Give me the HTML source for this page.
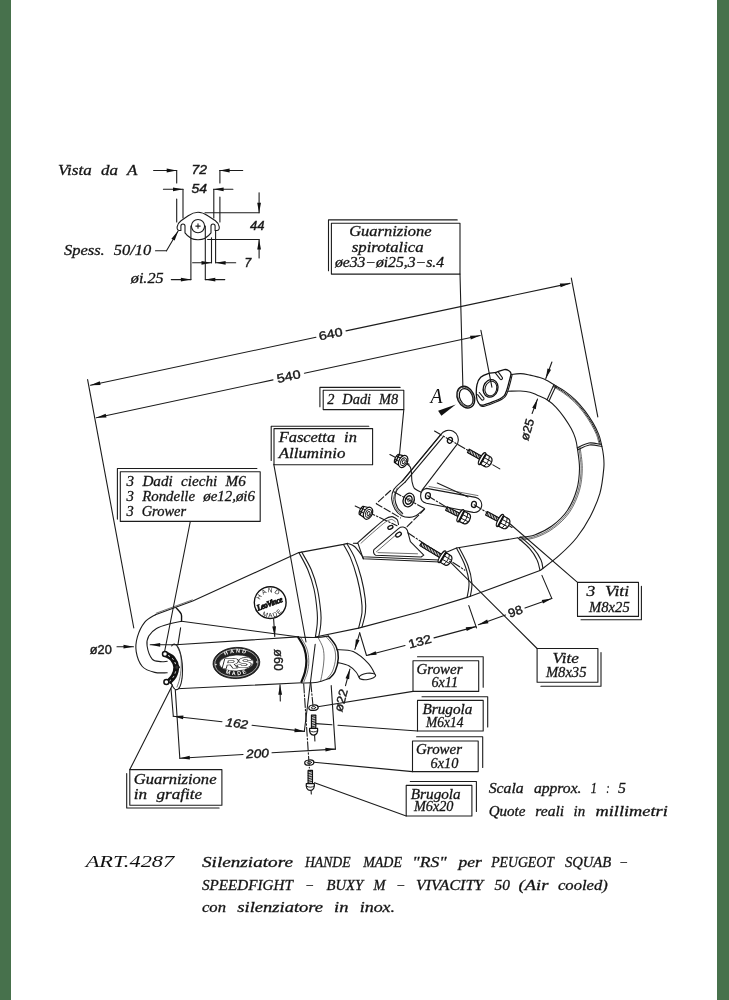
<!DOCTYPE html>
<html>
<head>
<meta charset="utf-8">
<title>ART.4287</title>
<style>
html,body{margin:0;padding:0;background:#fff;}
body{width:729px;height:1000px;overflow:hidden;position:relative;font-family:"Liberation Serif",serif;}
svg{position:absolute;left:0;top:0;display:block;filter:grayscale(1);}
.bar{position:absolute;top:0;height:1000px;background:#47714c;}
text{white-space:pre;}
.l{stroke:#1c1c1c;stroke-width:1.1;fill:none;stroke-linecap:round;stroke-linejoin:round;}
.t{stroke:#333;stroke-width:.7;fill:none;stroke-linecap:round;stroke-linejoin:round;}
.k{stroke:#111;stroke-width:1.5;fill:none;stroke-linecap:round;stroke-linejoin:round;}
.w{fill:#fff;}
.d{fill:#222;stroke:#222;stroke-width:.6;}
.s{word-spacing:.3em;font-family:"Liberation Serif",serif;font-style:italic;font-size:13.6px;fill:#111;stroke:#222;stroke-width:.3px;}
.n{font-family:"Liberation Sans",sans-serif;font-size:12.1px;fill:#111;stroke:#222;stroke-width:.4px;}
.ni{font-family:"Liberation Sans",sans-serif;font-style:italic;font-size:12.1px;fill:#111;stroke:#222;stroke-width:.4px;}
</style>
</head>
<body>
<svg width="729" height="1000" viewBox="0 0 729 1000" >
<defs>
<marker id="a" markerUnits="userSpaceOnUse" markerWidth="14" markerHeight="6" refX="0" refY="0" viewBox="-12 -3 14 6" orient="auto" overflow="visible"><path d="M0,0 L-10,-1.9 L-10,1.9 Z" fill="#111"/></marker>
</defs>
<rect x="0" y="0" width="729" height="1000" fill="#fff"/>
<g id="vista">
<text class="s" x="58" y="174.6" textLength="79.3" lengthAdjust="spacingAndGlyphs">Vista da A</text>
<text class="ni" x="191.5" y="174.3" textLength="15.5" lengthAdjust="spacingAndGlyphs">72</text>
<text class="ni" x="191.5" y="193.4" textLength="15.5" lengthAdjust="spacingAndGlyphs">54</text>
<text class="ni" x="250" y="229.6" textLength="14.5" lengthAdjust="spacingAndGlyphs">44</text>
<text class="ni" x="244.5" y="266.5">7</text>
<text class="s" x="64" y="255.4" textLength="87.3" lengthAdjust="spacingAndGlyphs">Spess. 50/10</text>
<text class="s" x="130.8" y="282.8" textLength="32.8" lengthAdjust="spacingAndGlyphs">øi.25</text>
<g class="l">
<line x1="153.6" y1="170.5" x2="176.7" y2="170.5" marker-end="url(#a)"/>
<line x1="242.7" y1="170.5" x2="219.6" y2="170.5" marker-end="url(#a)"/>
<path d="M176.7,170.5V183M176.7,199V222M219.9,170.5V183M219.9,197V222"/>
<line x1="163.4" y1="189.3" x2="183" y2="189.3" marker-end="url(#a)"/>
<line x1="232.9" y1="189.3" x2="213.6" y2="189.3" marker-end="url(#a)"/>
<path d="M183,189.3V218M213.8,189.3V218"/>
<path d="M205,212.7H259.1M207.6,239.5H259.1"/>
<line x1="259.1" y1="192.8" x2="259.1" y2="212.7" marker-end="url(#a)"/>
<line x1="259.1" y1="258" x2="259.1" y2="239.5" marker-end="url(#a)"/>
<line x1="192.6" y1="262.8" x2="211.5" y2="262.8" marker-end="url(#a)"/>
<line x1="235.7" y1="262.8" x2="215.6" y2="262.8" marker-end="url(#a)"/>
<path d="M211.5,237.7V262.8M215.6,231V262.8"/>
<line x1="171.3" y1="279.6" x2="190.9" y2="279.6" marker-end="url(#a)"/>
<line x1="224.8" y1="279.6" x2="205.3" y2="279.6" marker-end="url(#a)"/>
<path d="M190.9,226V279.6M205.3,226V279.6"/>
<path d="M155.5,250.8H166.5"/>
<line x1="166.5" y1="250.8" x2="178.1" y2="231" marker-end="url(#a)"/>
<path d="M198,212.3 C193.8,212.3 190.8,214 188.2,215.8 L181,220.8 C176.4,224.2 175.8,230.5 179.5,230.5 L180.9,230.5 L180.9,226 A2.05,2.05 0 0 1 185,226 L185,232.9 C188,237 193,239.8 198,239.8 C203,239.8 208,237 211,232.9 L211,226 A2.05,2.05 0 0 1 215.1,226 L215.1,230.5 L216.8,230.5 C220.6,230.5 220,224.2 215.4,220.8 L207.8,215.8 C205.2,214 202.2,212.3 198,212.3 Z"/>
<circle cx="198" cy="226.1" r="6.6"/>
<path d="M195.8,226.1H200.2M198,223.9V228.3"/>
</g>
</g>
<g id="exhaust" class="l">
<path d="M509.6,374.7C511.4,374.5 517.1,373.5 520.5,373.6C523.9,373.7 527,374.5 530,375.1C533,375.7 535.7,376.4 538.2,377.1C540.7,377.9 542.5,378.3 545.1,379.6C547.7,380.9 550.8,382.8 554,384.7C557.2,386.6 560.8,388.4 564.3,390.9C567.8,393.4 571.9,396.5 575.3,399.8C578.7,403.1 581.9,406.9 584.9,410.8C587.9,414.7 590.8,419.2 593.1,423.1C595.4,427 597.2,430.7 598.6,434.1C600,437.5 600.5,440.2 601.3,443.7C602.1,447.2 603,450.9 603.4,455C603.8,459.1 604.4,462 603.8,468.4C603.2,474.8 602.1,485.4 599.9,493.4C597.6,501.4 594.1,509 590.3,516.4C586.4,523.8 581.9,531 576.8,537.5C571.7,544 565.5,549.8 559.5,555.2C553.5,560.7 543.8,567.7 540.6,570.2"/>
<path d="M508.2,391.2C510.2,391.2 516.9,390.8 520.5,391C524.1,391.2 527.3,391.5 530,392.2C532.7,392.9 534,393.7 536.9,395C539.8,396.3 543.9,397.8 547.1,399.8C550.3,401.9 553.2,404.3 556.1,407.3C559,410.3 561.8,414.1 564.3,417.6C566.8,421.2 569.4,425.2 571.2,428.6C573,432 574.3,435 575.3,438.2C576.3,441.4 576.6,442.8 577.3,447.8C578,452.8 579.6,461.4 579.5,468.4C579.4,475.3 578.8,482.4 576.8,489.5C574.8,496.6 571.4,504.6 567.2,510.7C563.1,516.8 557.3,522 551.9,526C546.5,530 540,533 534.6,534.9C529.2,536.8 521.9,537 519.4,537.4"/>
<path d="M553.4,385.7C555.1,386.8 560.1,389.4 563.6,391.9C567.1,394.4 571.1,397.4 574.5,400.7C577.9,403.9 581,407.7 583.9,411.5C586.9,415.4 589.8,419.9 592.1,423.7C594.3,427.5 596.1,431.2 597.5,434.5C598.8,437.9 599.7,442.4 600.1,444" stroke="#222" stroke-width="1" fill="none"/>
<path class="t" d="M552.9,386.6C554.6,387.6 559.5,390.2 563,392.7C566.5,395.2 570.4,398.1 573.8,401.4C577.1,404.6 580.2,408.3 583.2,412.1C586.1,415.9 589,420.4 591.2,424.2C593.4,428 595.2,431.6 596.6,434.9C597.9,438.3 598.7,442.7 599.2,444.3"/>
<path class="t" d="M578.9,447.6C579.3,451.1 581.2,461.4 581.1,468.4C581,475.5 580.4,482.7 578.3,489.9C576.2,497.1 572.8,505.4 568.5,511.6C564.3,517.8 558.4,523.2 552.9,527.3C547.3,531.4 540.7,534.5 535.1,536.4C529.6,538.4 522.2,538.6 519.7,539"/>
<path class="t" d="M580.1,447.5C580.5,451 582.4,461.3 582.3,468.4C582.2,475.6 581.6,483 579.5,490.3C577.4,497.6 573.8,506 569.5,512.3C565.2,518.6 559.2,524 553.6,528.2C547.9,532.5 541.1,535.6 535.5,537.5C529.9,539.5 522.5,539.7 519.9,540.2"/>
<path d="M554,384.7C553.5,385.8 551.9,389 550.8,391.5C549.6,394 547.7,398.4 547.1,399.8"/>
<path d="M556,385.9C555.5,387 554,390.2 552.8,392.8C551.6,395.4 549.6,399.8 549,401.2"/>
<path d="M577.3,447.8C579.2,447 585,443.6 589,443C593,442.4 599.2,444.2 601.3,444.4"/>
<path d="M577.7,449.8C579.7,449 585.4,445.6 589.4,445C593.4,444.4 599.7,446.2 601.8,446.4"/>
<path d="M477,384.7C477.7,381.6 478.8,379.1 480.7,377.3C482.6,375.5 485.5,374.4 488.1,373.6C490.7,372.8 493.5,373 496.2,372.3C498.9,371.6 502.1,369.9 504.2,369.6C506.2,369.3 507.4,369.8 508.5,370.5C509.6,371.2 510.9,371.8 511,373.6C511.1,375.5 509.9,378.5 509.1,381.6C508.3,384.7 507.2,389.4 506,392.1C504.8,394.8 505.5,395.5 501.7,397.7C497.9,399.9 487.1,404.3 483.2,405.1C479.3,405.9 479.4,404.2 478.3,402.6C477.2,401.1 476.6,398.8 476.4,395.8C476.2,392.8 476.3,387.8 477,384.7Z" fill="#fff" stroke="#111" stroke-width="1.3"/>
<path d="M512.2,374.5C511.9,375.9 511.1,379.9 510.2,383C509.3,386.1 508.3,390.5 507,393.2C505.7,395.9 506.2,396.8 502.3,399C498.4,401.2 487.4,405.5 483.6,406.4C479.8,407.3 480.2,404.8 479.5,404.5"/>
<ellipse cx="490.6" cy="388.4" rx="7.3" ry="8.9" transform="rotate(18 490.6 388.4)" fill="none" stroke="#111" stroke-width="1.3"/>
<ellipse cx="490.9" cy="388.6" rx="5.8" ry="7.4" transform="rotate(18 490.9 388.6)"/>
<path d="M495.5,373.2L500.2,379.2A1.4,1.4 0 0 0 502.4,377.6L498,371.7"/>
<path d="M477.6,394.6L481.7,399.8A1.4,1.4 0 0 0 483.9,398.2L479.3,392.5"/>
<ellipse cx="465.8" cy="397.1" rx="8.4" ry="11.3" transform="rotate(-25 465.8 397.1)" fill="#fff" stroke="#111" stroke-width="1.3"/>
<ellipse cx="466.2" cy="397.3" rx="6.3" ry="9.1" transform="rotate(-25 466.2 397.3)" fill="none" stroke="#111" stroke-width="1.2"/>
<ellipse class="t" cx="465.5" cy="396.8" rx="7.4" ry="10.3" transform="rotate(-25 465.5 396.8)"/>
<path d="M455.8,404.5L438.1,410.8L441.4,415.7Z" fill="#111" stroke="none"/>
<path d="M155.4,614.7L192.7,601L298.9,552.6"/>
<path class="t" d="M156.2,613.2L192.4,599.9"/>
<path d="M176.2,607.9C177,608.9 180.3,611.9 181.2,614.1C182.1,616.3 181.4,620.1 181.5,621.3" stroke="#111" stroke-width="1.4" fill="none"/>
<path d="M181.5,621.3L301,637.3"/>
<path d="M298.9,552.6L343.5,544.4L347.6,543.4"/>
<path d="M347.6,543.4C348.8,543.9 352.2,544.6 354.5,546.5C356.8,548.4 359.8,552.7 361.3,554.7C362.8,556.8 363.2,558.1 363.6,558.8"/>
<path d="M298.9,552.6C300.4,555.5 305.3,563.7 307.8,569.8C310.3,575.9 312.4,581.9 314,589C315.6,596.1 316.7,606.5 317.2,612.3C317.7,618.1 317.5,619.9 317.2,624C316.9,628.1 315.7,634.8 315.4,637"/>
<path d="M301.7,552C303.3,555 308.7,563.6 311.3,569.8C313.9,576 315.8,581.9 317.4,589C319,596.1 320.2,606.3 320.8,612.3C321.4,618.3 321,621 320.7,625C320.4,629 319.1,634.4 318.8,636.3"/>
<path d="M343.5,544.4C344.6,546.6 348.1,551.8 350.4,557.4C352.7,563 355.4,571.1 357.2,578C359,584.9 360.5,592.9 361.3,598.6C362.1,604.3 362.4,607.4 362,612.3C361.6,617.2 359.2,625.5 358.6,628.1"/>
<path d="M346.9,543.7C348.2,546 352.1,551.7 354.5,557.4C356.9,563.1 359.5,571.1 361.3,578C363.1,584.9 364.5,592.9 365.2,598.6C365.9,604.3 365.9,607.6 365.4,612.3C364.9,617 362.6,624.5 362,626.9"/>
<path d="M315.4,637L358.6,628.1L420,611.8L467.1,597.4L540,570.5"/>
<path d="M440,555L448.8,551.3L456.5,548L517.9,537.8"/>
<path d="M456.5,548C457.9,551 463,559.9 465.1,565.7C467.2,571.5 468.7,577.7 469,583C469.3,588.3 467.4,595 467.1,597.4"/>
<path d="M459.4,548.2C460.8,551.1 465.9,559.9 468,565.7C470.1,571.5 471.5,577.9 471.9,583C472.3,588.1 470.6,594.2 470.3,596.4"/>
<path d="M517.9,537.8C519.8,539.6 526.3,544.7 529.5,548.4C532.7,552.1 535.4,556.2 537.1,559.9C538.9,563.6 539.5,568.7 540,570.5"/>
<path d="M520.8,536.9C522.9,538.8 529.9,544.6 533.3,548.4C536.7,552.2 539.4,556.5 541,559.9C542.6,563.3 542.6,567.1 542.9,568.6"/>
<path d="M175.7,644.8L297.2,636.9"/>
<path d="M176.9,688.8L302,682.8"/>
<ellipse cx="175.4" cy="666.9" rx="7" ry="22.8" transform="rotate(-3 175.4 666.9)" fill="#fff" stroke="none"/>
<path d="M171.7,645.9C171.8,645.8 172.2,645.2 172.6,644.9C172.9,644.6 173.2,644.4 173.5,644.3C173.8,644.2 174.1,644.1 174.5,644.1C174.8,644.2 175.1,644.2 175.4,644.4C175.8,644.6 176.1,644.8 176.4,645.1C176.8,645.4 177.1,645.8 177.4,646.3C177.7,646.7 178,647.2 178.3,647.8C178.6,648.4 178.9,649 179.2,649.7C179.5,650.4 179.7,651.2 180,652C180.2,652.8 180.5,653.6 180.7,654.5C180.9,655.4 181.1,656.3 181.3,657.3C181.5,658.3 181.6,659.3 181.8,660.3C181.9,661.3 182.1,662.3 182.2,663.4C182.3,664.4 182.3,665.5 182.4,666.5C182.4,667.6 182.5,668.7 182.5,669.7C182.5,670.8 182.5,671.8 182.4,672.8C182.4,673.8 182.4,674.9 182.3,675.8C182.2,676.8 182.1,677.8 182,678.7C181.8,679.6 181.7,680.4 181.5,681.3C181.4,682.1 181.2,682.9 181,683.6C180.8,684.3 180.5,685 180.3,685.6C180.1,686.2 179.8,686.7 179.5,687.2C179.3,687.7 179,688.1 178.7,688.4C178.4,688.8 178.1,689.1 177.8,689.3C177.5,689.5 177.2,689.6 176.8,689.6C176.5,689.7 176.2,689.7 175.9,689.6C175.5,689.5 175.2,689.3 174.9,689.1C174.5,688.8 174.2,688.5 173.9,688.1C173.6,687.8 173.2,687.3 172.9,686.8C172.6,686.3 172.3,685.7 172,685.1C171.7,684.4 171.5,683.7 171.2,683C170.9,682.2 170.6,681 170.4,680.6"/>
<path class="t" d="M177.2,646.5C177.8,647.9 179.9,651.6 180.6,655C181.3,658.4 181.4,663 181.2,667C181,671 180.3,675.7 179.6,679C178.9,682.3 177.4,685.7 177,687"/>
<path d="M298.2,637.2C299.2,639 302.8,644.1 304.2,648C305.6,651.9 306.3,656.8 306.4,660.8C306.5,664.8 305.8,668.5 305,672C304.2,675.5 302.1,680.1 301.5,681.7" stroke="#111" stroke-width="2.2" fill="none"/>
<path class="t" d="M300.6,637.2C301.6,639 305.2,644.1 306.6,648C308,651.9 308.7,656.8 308.8,660.8C308.9,664.8 308.2,668.5 307.4,672C306.6,675.5 304.5,680.1 303.9,681.7"/>
<path class="t" d="M318.5,638.3C319.2,639.9 322.1,644.5 323,648C323.9,651.5 324.1,655.2 324,659C323.9,662.8 323.2,667.4 322.6,671C322.1,674.6 321,679 320.7,680.6"/>
<path d="M301,637.3C303.7,637.3 312.8,637.6 317.4,637.4C322,637.2 326.6,636.3 328.4,636.1"/>
<path class="k" d="M328.4,636.1C329.7,637.8 334.5,642.9 336.1,646.5C337.8,650.1 338.5,653.8 338.3,658C338.1,662.2 336.5,668.4 335,671.8C333.5,675.2 330.4,677.3 329.5,678.4"/>
<path d="M329.5,678.4C327.5,679 322,681.5 317.4,682.3C312.8,683.1 304.6,682.9 302,683"/>
<path class="t" d="M326,636.6C327.3,638.2 332,642.9 333.6,646.5C335.2,650.1 335.8,653.9 335.6,658C335.4,662.1 334,667.6 332.6,671C331.2,674.4 327.9,677.3 327,678.6"/>
<path d="M336.9,649.6C339.6,649.9 347.9,649.2 353.2,651.6C358.5,654 364.8,659.7 368.5,663.7C372.2,667.7 374.4,673.5 375.6,675.5"/>
<path d="M337.9,662.6C339.7,663.1 345.8,664.2 348.8,665.8C351.8,667.4 354.3,670 356,672C357.7,674 358.7,676.7 359.2,677.6"/>
<ellipse class="l w" cx="367.4" cy="676.4" rx="8.3" ry="3.1" transform="rotate(-8 367.4 676.4)"/>
<path d="M155.4,614.7C153.6,615.9 147.8,618.4 144.8,622.1C141.8,625.8 138.8,632 137.4,636.9C136,641.8 135.4,646.8 136.2,651.7C137,656.6 139.2,663 142.3,666.5C145.4,670 150.5,671.4 154.7,672.4C158.8,673.4 165.1,672.7 167.2,672.8"/>
<path d="M181.5,621.3C179.7,621.7 174.9,622.3 170.7,623.5C166.5,624.7 160.2,626.3 156.5,628.4C152.8,630.5 150.4,633.2 148.8,636.1C147.2,639 146.5,642.2 147.1,646C147.7,649.8 150,656.5 152.2,659.1C154.4,661.7 158,661.2 160.5,661.6C163,662 166.1,661.3 167.2,661.3"/>
<path d="M166.2,654.5C167.3,655.2 170.9,656.5 172.6,658.6C174.3,660.7 176,664.1 176.2,667C176.4,669.9 175.1,673.7 173.8,676.2C172.5,678.7 169.3,681.2 168.4,682.2" stroke="#111" stroke-width="5.8" fill="none" stroke-linecap="butt"/>
<path d="M166.2,654.5C167.3,655.2 170.9,656.5 172.6,658.6C174.3,660.7 176,664.1 176.2,667C176.4,669.9 175.1,673.7 173.8,676.2C172.5,678.7 169.3,681.2 168.4,682.2" stroke="#fff" stroke-width=".9" fill="none" stroke-dasharray="1.4 3.4" stroke-dashoffset="-2.5"/>
<circle cx="165" cy="654" r="2.5" fill="#fff" stroke="#111" stroke-width="1.5"/><circle cx="166.4" cy="682" r="2.5" fill="#fff" stroke="#111" stroke-width="1.5"/><circle cx="177" cy="667.2" r="2.2" fill="#333" stroke="#111" stroke-width="1"/>
<line x1="180.6" y1="627.9" x2="177.9" y2="644.9"/>
</g>
<g id="bracket" class="l">
<path d="M390.6,490.5L376.3,503.7L400.5,517.9" stroke-dasharray="7 2.5"/>
<path d="M407.1,526.7L424.6,509.2" stroke-dasharray="7 2.5"/>
<path class="l w" d="M357.8,542.6C359.5,541.1 368.9,532.7 372,530C375.1,527.3 382.3,521 384.6,519.4C386.9,517.8 390.2,516.6 391.7,516.6C393.2,516.6 396.4,518.7 397.2,519.6C398,520.5 398.3,523.9 398.5,524.5"/>
<path class="t" d="M361,543.2C362.5,541.8 371.1,534.1 374,531.6C376.9,529.1 383.9,523 386,521.6C388.1,520.2 390.5,519.4 391.6,519.4C392.7,519.4 395,521.5 395.4,521.8"/>
<ellipse cx="390.4" cy="527.4" rx="2.7" ry="1.6" transform="rotate(-25 390.4 527.4)" fill="#fff" stroke="#111" stroke-width="1.3"/>
<path d="M353.4,543.3L358,543.4L362.5,556.8L439.5,560"/>
<path d="M362.5,556.8L363.2,558.8L440,562"/>
<path class="l w" d="M373.9,549.7L398.8,528.3C401,526.4 405.5,526.2 407.3,530.2L410.4,541.7L423.8,555.1L421.1,557L375.7,555.3C373.6,554.5 373,551.2 373.9,549.7Z"/>
<path class="t" d="M376.5,551.7L399.5,531.8M378,552.6L417.5,553.8"/>
<ellipse cx="398.5" cy="534.6" rx="3.1" ry="1.9" transform="rotate(-30 398.5 534.6)" fill="#fff" stroke="#111" stroke-width="1.3"/>
<path d="M440.6,434.8A9.6,9.6 0 0 1 457.6,443.6L421.9,490.3L414,500L402.7,480.6Z" fill="#fff" stroke="none"/>
<path d="M402.7,480.6L440.6,434.8A9.6,9.6 0 0 1 457.6,443.6L421.9,490.3"/>
<path class="l" d="M443.3,436.7L404.9,482.3"/>
<path class="l w" d="M402.7,480.6C401.2,482.1 395.7,486.3 393.9,489.4C392.1,492.5 391.5,496 391.7,499.3C391.9,502.6 393.4,506.5 395,509.2C396.6,511.9 399.2,514.3 401.6,515.7C404,517.1 406.9,517.4 409.3,517.4C411.7,517.4 414.1,516.5 415.9,515.7C417.7,514.9 418.9,513.6 420.3,512.4C421.8,511.2 423.9,509.2 424.6,508.6"/>
<path d="M404.9,482.3C403.5,483.7 398.3,487.7 396.7,490.5C395.1,493.3 394.8,496.4 395,499.3C395.2,502.2 396.4,505.6 397.7,508C399,510.4 401.9,512.6 402.7,513.5"/>
<path class="t" d="M397.2,488C396.6,489.9 393.5,495.8 393.4,499.3C393.3,502.8 395.1,506.4 396.6,509C398.1,511.6 401.4,513.8 402.4,514.8"/>
<path d="M402.7,480.6L440.6,434.8"/>
<ellipse cx="408.7" cy="500" rx="5.4" ry="7" transform="rotate(22 408.7 500)" fill="#fff" stroke="#111" stroke-width="1.3"/>
<ellipse cx="408.7" cy="500" rx="3.2" ry="4.3" transform="rotate(22 408.7 500)" fill="#fff" stroke="#111" stroke-width="1.4"/>
<ellipse class="t" cx="408.9" cy="500" rx="1.2" ry="1.9" transform="rotate(22 408.9 500)"/>
<path d="M406.5,463.4C407,463.9 409.7,465.8 410.4,467.2C411.1,468.6 411.3,471.9 411.5,473.8C411.7,475.7 411.6,479.6 412,481.5C412.4,483.4 413,486.6 414.2,488.1C415.4,489.6 420.4,491.8 421.3,492.4"/>
<path class="l w" d="M426.6,488.4L475.6,497.4A7.6,7.6 0 0 1 473.2,512.4L426.4,503.2A7.6,7.6 0 0 1 426.6,488.4Z"/>
<path class="t" d="M429,486.5L478,495.6"/>
<ellipse cx="427.9" cy="495.7" rx="2.4" ry="3.1" transform="rotate(10 427.9 495.7)" fill="#fff" stroke="#111" stroke-width="1.3"/>
<ellipse cx="473.9" cy="504.4" rx="2.4" ry="3.1" transform="rotate(10 473.9 504.4)" fill="#fff" stroke="#111" stroke-width="1.3"/>
<ellipse cx="449.9" cy="440.3" rx="2.4" ry="3" transform="rotate(20 449.9 440.3)" fill="#fff" stroke="#111" stroke-width="1.3"/>
<line x1="434.5" y1="431" x2="500.5" y2="469.3" stroke-dasharray="8 2 1.5 2"/>
<line x1="389.9" y1="454.6" x2="409.6" y2="464.5" stroke-dasharray="8 2 1.5 2"/>
<line x1="393.9" y1="491.8" x2="424" y2="508.3" stroke-dasharray="8 2 1.5 2"/>
<line x1="355.2" y1="506" x2="397" y2="525.7" stroke-dasharray="8 2 1.5 2"/>
<line x1="407.8" y1="532.8" x2="464.8" y2="570.2" stroke-dasharray="8 2 1.5 2"/>
<line x1="427.7" y1="495.8" x2="470" y2="521.3" stroke-dasharray="8 2 1.5 2"/>
<line x1="474.2" y1="504.8" x2="512" y2="527.5" stroke-dasharray="8 2 1.5 2"/>
<line x1="437.3" y1="483.1" x2="468" y2="497"/>
<g transform="translate(485.3,460.4) rotate(29.5)">
<rect x="-19.5" y="-1.9" width="15" height="3.8" fill="#fff" stroke="#111" stroke-width="1.1"/>
<path d="M-18.9,-1.9L-17.9,1.9M-17.2,-1.9L-16.2,1.9M-15.5,-1.9L-14.5,1.9M-13.8,-1.9L-12.8,1.9M-12.1,-1.9L-11.1,1.9M-10.4,-1.9L-9.4,1.9M-8.7,-1.9L-7.7,1.9M-7,-1.9L-6,1.9M-5.3,-1.9L-4.3,1.9" stroke="#111" stroke-width=".9" fill="none"/>
<g transform="translate(-3.6,0) scale(1.1) translate(3.6,0)">
<ellipse cx="-3.6" cy="0" rx="1.9" ry="6.1" fill="#fff" stroke="#111" stroke-width="1.1"/>
<path d="M-3,-5.2 L2.8,-5 C6.4,-4 6.4,4 2.8,5 L-3,5.2 Z" fill="#fff" stroke="#111" stroke-width="1.1"/>
<path d="M-2.6,-1.8 L4.4,-1.7 M-2.6,1.8 L4.4,1.7 M1.2,-5 C2.6,-2 2.6,2 1.2,5" stroke="#111" stroke-width=".8" fill="none"/>
<path d="M-2.4,-4.8 V4.8" stroke="#111" stroke-width="1.5" fill="none"/>
</g>
</g>
<g transform="translate(463.8,517.4) rotate(27)">
<rect x="-19.5" y="-1.9" width="15" height="3.8" fill="#fff" stroke="#111" stroke-width="1.1"/>
<path d="M-18.9,-1.9L-17.9,1.9M-17.2,-1.9L-16.2,1.9M-15.5,-1.9L-14.5,1.9M-13.8,-1.9L-12.8,1.9M-12.1,-1.9L-11.1,1.9M-10.4,-1.9L-9.4,1.9M-8.7,-1.9L-7.7,1.9M-7,-1.9L-6,1.9M-5.3,-1.9L-4.3,1.9" stroke="#111" stroke-width=".9" fill="none"/>
<g transform="translate(-3.6,0) scale(1.1) translate(3.6,0)">
<ellipse cx="-3.6" cy="0" rx="1.9" ry="6.1" fill="#fff" stroke="#111" stroke-width="1.1"/>
<path d="M-3,-5.2 L2.8,-5 C6.4,-4 6.4,4 2.8,5 L-3,5.2 Z" fill="#fff" stroke="#111" stroke-width="1.1"/>
<path d="M-2.6,-1.8 L4.4,-1.7 M-2.6,1.8 L4.4,1.7 M1.2,-5 C2.6,-2 2.6,2 1.2,5" stroke="#111" stroke-width=".8" fill="none"/>
<path d="M-2.4,-4.8 V4.8" stroke="#111" stroke-width="1.5" fill="none"/>
</g>
</g>
<g transform="translate(503.2,522.2) rotate(28)">
<rect x="-19" y="-1.9" width="14.5" height="3.8" fill="#fff" stroke="#111" stroke-width="1.1"/>
<path d="M-18.4,-1.9L-17.4,1.9M-16.7,-1.9L-15.7,1.9M-15,-1.9L-14,1.9M-13.3,-1.9L-12.3,1.9M-11.6,-1.9L-10.6,1.9M-9.9,-1.9L-8.9,1.9M-8.2,-1.9L-7.2,1.9M-6.5,-1.9L-5.5,1.9" stroke="#111" stroke-width=".9" fill="none"/>
<g transform="translate(-3.6,0) scale(1.1) translate(3.6,0)">
<ellipse cx="-3.6" cy="0" rx="1.9" ry="6.1" fill="#fff" stroke="#111" stroke-width="1.1"/>
<path d="M-3,-5.2 L2.8,-5 C6.4,-4 6.4,4 2.8,5 L-3,5.2 Z" fill="#fff" stroke="#111" stroke-width="1.1"/>
<path d="M-2.6,-1.8 L4.4,-1.7 M-2.6,1.8 L4.4,1.7 M1.2,-5 C2.6,-2 2.6,2 1.2,5" stroke="#111" stroke-width=".8" fill="none"/>
<path d="M-2.4,-4.8 V4.8" stroke="#111" stroke-width="1.5" fill="none"/>
</g>
</g>
<g transform="translate(445.2,558.7) rotate(31)">
<rect x="-28.5" y="-1.9" width="24" height="3.8" fill="#fff" stroke="#111" stroke-width="1.1"/>
<path d="M-27.9,-1.9L-26.9,1.9M-26.2,-1.9L-25.2,1.9M-24.5,-1.9L-23.5,1.9M-22.8,-1.9L-21.8,1.9M-21.1,-1.9L-20.1,1.9M-19.4,-1.9L-18.4,1.9M-17.7,-1.9L-16.7,1.9M-16,-1.9L-15,1.9M-14.3,-1.9L-13.3,1.9M-12.6,-1.9L-11.6,1.9M-10.9,-1.9L-9.9,1.9M-9.2,-1.9L-8.2,1.9M-7.5,-1.9L-6.5,1.9M-5.8,-1.9L-4.8,1.9" stroke="#111" stroke-width=".9" fill="none"/>
<g transform="translate(-3.6,0) scale(1.1) translate(3.6,0)">
<ellipse cx="-3.6" cy="0" rx="1.9" ry="6.1" fill="#fff" stroke="#111" stroke-width="1.1"/>
<path d="M-3,-5.2 L2.8,-5 C6.4,-4 6.4,4 2.8,5 L-3,5.2 Z" fill="#fff" stroke="#111" stroke-width="1.1"/>
<path d="M-2.6,-1.8 L4.4,-1.7 M-2.6,1.8 L4.4,1.7 M1.2,-5 C2.6,-2 2.6,2 1.2,5" stroke="#111" stroke-width=".8" fill="none"/>
<path d="M-2.4,-4.8 V4.8" stroke="#111" stroke-width="1.5" fill="none"/>
</g>
</g>
<g transform="translate(401.4,460.6) rotate(27)">
<path d="M-5.6,-4.2 L1,-5.6 L1,5.6 L-5.6,4.6 C-7,2.5 -7,-2 -5.6,-4.2Z" fill="#fff" stroke="#111" stroke-width="1.2"/>
<path d="M-6.3,-1.7 L0,-2 M-6.3,1.6 L0,2" stroke="#111" stroke-width=".9" fill="none"/>
<path d="M-4.6,-4.4 V4.6" stroke="#111" stroke-width="1.3" fill="none"/>
<ellipse cx="2" cy="0" rx="4.2" ry="6.4" fill="#fff" stroke="#111" stroke-width="1.2"/>
<ellipse cx="2.4" cy="0" rx="2.7" ry="4.1" fill="#fff" stroke="#111" stroke-width=".9"/>
<ellipse cx="2.6" cy="0" rx="1.3" ry="2.1" fill="#fff" stroke="#111" stroke-width=".9"/>
</g>
<g transform="translate(366.2,512.4) rotate(25)">
<path d="M-5.6,-4.2 L1,-5.6 L1,5.6 L-5.6,4.6 C-7,2.5 -7,-2 -5.6,-4.2Z" fill="#fff" stroke="#111" stroke-width="1.2"/>
<path d="M-6.3,-1.7 L0,-2 M-6.3,1.6 L0,2" stroke="#111" stroke-width=".9" fill="none"/>
<path d="M-4.6,-4.4 V4.6" stroke="#111" stroke-width="1.3" fill="none"/>
<ellipse cx="2" cy="0" rx="4.2" ry="6.4" fill="#fff" stroke="#111" stroke-width="1.2"/>
<ellipse cx="2.4" cy="0" rx="2.7" ry="4.1" fill="#fff" stroke="#111" stroke-width=".9"/>
<ellipse cx="2.6" cy="0" rx="1.3" ry="2.1" fill="#fff" stroke="#111" stroke-width=".9"/>
</g>
</g>
<g id="screws" class="l">
<ellipse cx="313.5" cy="707.7" rx="4.7" ry="2.7" transform="rotate(-6 313.5 707.7)" fill="#fff" stroke="#111" stroke-width="1.2"/>
<ellipse cx="313.5" cy="707.7" rx="2.2" ry="1.1" transform="rotate(-6 313.5 707.7)" fill="#fff" stroke="#111" stroke-width=".8"/>
<g transform="translate(313.6,715.1)">
<rect x="-2.2" y="0" width="4.4" height="13" fill="#fff" stroke="#111" stroke-width="1.1"/>
<path d="M-2.2,1.6L2.2,0.6M-2.2,3.3L2.2,2.3M-2.2,5L2.2,4M-2.2,6.7L2.2,5.7M-2.2,8.4L2.2,7.4M-2.2,10.1L2.2,9.1M-2.2,11.8L2.2,10.8" stroke="#111" stroke-width=".9" fill="none"/>
<path d="M-4,13.3 H4 C4.6,17 3,20 0,20 C-3,20 -4.6,17 -4,13.3 Z" fill="#fff" stroke="#111" stroke-width="1.2"/>
<path d="M-3.6,15.8 C-2,17.2 2,17.2 3.6,15.8" fill="none" stroke="#111" stroke-width=".9"/>
</g>
<line x1="314.6" y1="735.4" x2="314.9" y2="741"/>
<ellipse cx="309.3" cy="762.6" rx="4.6" ry="2.6" transform="rotate(-6 309.3 762.6)" fill="#fff" stroke="#111" stroke-width="1.2"/>
<ellipse cx="309.3" cy="762.6" rx="2.2" ry="1.1" transform="rotate(-6 309.3 762.6)" fill="#fff" stroke="#111" stroke-width=".8"/>
<g transform="translate(310.3,770.4)">
<rect x="-2.2" y="0" width="4.4" height="13" fill="#fff" stroke="#111" stroke-width="1.1"/>
<path d="M-2.2,1.6L2.2,0.6M-2.2,3.3L2.2,2.3M-2.2,5L2.2,4M-2.2,6.7L2.2,5.7M-2.2,8.4L2.2,7.4M-2.2,10.1L2.2,9.1M-2.2,11.8L2.2,10.8" stroke="#111" stroke-width=".9" fill="none"/>
<path d="M-4,13.3 H4 C4.6,17 3,20 0,20 C-3,20 -4.6,17 -4,13.3 Z" fill="#fff" stroke="#111" stroke-width="1.2"/>
<path d="M-3.6,15.8 C-2,17.2 2,17.2 3.6,15.8" fill="none" stroke="#111" stroke-width=".9"/>
</g>
<line x1="311.1" y1="790.5" x2="311.3" y2="794"/>
</g>
<g id="logos">
<ellipse cx="236.4" cy="663" rx="23.4" ry="15.6" transform="rotate(-3 236.4 663)" fill="#222" stroke="#111" stroke-width=".8"/>
<ellipse cx="236.4" cy="663" rx="21.6" ry="13.9" transform="rotate(-3 236.4 663)" fill="none" stroke="#fff" stroke-width=".6"/>
<ellipse cx="236.4" cy="663" rx="17.2" ry="8" transform="rotate(-3 236.4 663)" fill="#fff" stroke="#111" stroke-width=".6"/>
<path id="rsT" d="M219.5,661.5A17.5,10.6 -3 0 1 253.3,659.7" fill="none"/>
<path id="rsB" d="M218.3,666.3A18.8,12.8 -3 0 0 254.8,664.4" fill="none"/>
<text style="font-family:'Liberation Sans',sans-serif;font-weight:bold;font-size:5.4px;fill:#fff;letter-spacing:1.9px"><textPath href="#rsT" startOffset="50%" text-anchor="middle">HAND</textPath></text>
<text style="font-family:'Liberation Sans',sans-serif;font-weight:bold;font-size:5.4px;fill:#fff;letter-spacing:1.9px"><textPath href="#rsB" startOffset="50%" text-anchor="middle">MADE</textPath></text>
<text transform="translate(236.6,667.8) rotate(-3) scale(1.65,1)" text-anchor="middle" style="font-family:'Liberation Sans',sans-serif;font-weight:bold;font-style:italic;font-size:13.5px;fill:#fff;stroke:#111;stroke-width:1.1px;paint-order:stroke;letter-spacing:-.6px">RS</text>
<circle cx="215.9" cy="664.6" r=".8" fill="#fff"/><circle cx="256.9" cy="662" r=".8" fill="#fff"/>
<circle cx="270.2" cy="602.6" r="15.9" fill="#fff" stroke="#111" stroke-width="1.4"/>
<g transform="rotate(-12 270.2 602.6)">
<path id="hmT" d="M259.9,602.6A10.3,10.3 0 0 1 280.5,602.6" fill="none"/>
<path id="hmB" d="M255.3,602.6A14.9,14.9 0 0 0 285.1,602.6" fill="none"/>
<text style="font-family:'Liberation Sans',sans-serif;font-size:6.4px;fill:#111;letter-spacing:1.2px"><textPath href="#hmT" startOffset="50%" text-anchor="middle">HAND</textPath></text>
<text style="font-family:'Liberation Sans',sans-serif;font-size:6.4px;fill:#111;letter-spacing:1.2px"><textPath href="#hmB" startOffset="50%" text-anchor="middle">MADE</textPath></text>
</g>
<text transform="translate(270.4,606.2) rotate(-20) scale(.92,1)" text-anchor="middle" style="font-family:'Liberation Serif',serif;font-weight:bold;font-style:italic;font-size:8.4px;fill:#111;stroke:#111;stroke-width:.8px;letter-spacing:-.5px">LeoVince</text>
</g>
<g id="boxes">
<g class="l">
<rect x="331.4" y="223.2" width="128.6" height="50.9" class="w"/>
<rect x="323.2" y="390.3" width="80.6" height="19.3" class="w"/>
<rect x="274" y="428.6" width="98.6" height="36.1" class="w"/>
<rect x="120.3" y="471.8" width="139.9" height="49.6" class="w"/>
<rect x="129.8" y="769.6" width="92.1" height="35.6" class="w"/>
<rect x="413" y="660.8" width="65.7" height="30.6" class="w"/>
<rect x="417.5" y="700.4" width="65.7" height="30.6" class="w"/>
<rect x="412.5" y="741" width="65.7" height="30.6" class="w"/>
<rect x="406.2" y="785.4" width="65.7" height="30.6" class="w"/>
<rect x="577.5" y="582.4" width="61" height="34" class="w"/>
<rect x="537.1" y="648.5" width="60.8" height="33.8" class="w"/>
<path d="M328.5,270.8V219.9H457.2"/>
<path d="M319.9,406.7V387.4H400.1"/>
<path d="M271.2,460.5V426.3H368.8"/>
<path d="M117.4,519.1V468.5H256.9"/>
<path d="M126.7,773.6V808H219.1"/>
<path d="M417.5,656.7H483.2V687.3"/>
<path d="M422,696.7H487.7V726.9"/>
<path d="M416.6,736.8H482.7V767.4"/>
<path d="M410.3,781.5H476.4V811.5"/>
<path d="M641.4,586.3V619.7H581"/>
<path d="M601,652.6V686.2H540.9"/>
</g>
<text class="s" x="349.2" y="236.3" textLength="82.3" lengthAdjust="spacingAndGlyphs">Guarnizione</text>
<text class="s" x="351.8" y="251.7" textLength="71.8" lengthAdjust="spacingAndGlyphs">spirotalica</text>
<text class="s" x="334.9" y="266.6" textLength="109.1" lengthAdjust="spacingAndGlyphs">øe33−øi25,3−s.4</text>
<text class="s" x="327.3" y="403.9" textLength="70.8" lengthAdjust="spacingAndGlyphs">2 Dadi M8</text>
<text class="s" x="278.7" y="441.7" textLength="78.2" lengthAdjust="spacingAndGlyphs">Fascetta in</text>
<text class="s" x="278.7" y="458.2" textLength="66.7" lengthAdjust="spacingAndGlyphs">Alluminio</text>
<text class="s" x="126.5" y="485.7" textLength="119.3" lengthAdjust="spacingAndGlyphs">3 Dadi ciechi M6</text>
<text class="s" x="126.5" y="501" textLength="128.4" lengthAdjust="spacingAndGlyphs">3 Rondelle øe12,øi6</text>
<text class="s" x="126.5" y="516.2" textLength="59.6" lengthAdjust="spacingAndGlyphs">3 Grower</text>
<text class="s" x="133.7" y="783.9" textLength="82.8" lengthAdjust="spacingAndGlyphs">Guarnizione</text>
<text class="s" x="133.7" y="798.8" textLength="68.5" lengthAdjust="spacingAndGlyphs">in grafite</text>
<text class="s" x="416.6" y="673.9" textLength="45.9" lengthAdjust="spacingAndGlyphs">Grower</text>
<text class="s" x="431.5" y="687.3" textLength="26.5" lengthAdjust="spacingAndGlyphs">6x11</text>
<text class="s" x="422.4" y="713.9" textLength="50" lengthAdjust="spacingAndGlyphs">Brugola</text>
<text class="s" x="426" y="726.5" textLength="37.4" lengthAdjust="spacingAndGlyphs">M6x14</text>
<text class="s" x="416.1" y="753.9" textLength="45.9" lengthAdjust="spacingAndGlyphs">Grower</text>
<text class="s" x="430.6" y="767.5" textLength="27.8" lengthAdjust="spacingAndGlyphs">6x10</text>
<text class="s" x="410.8" y="798.9" textLength="49.9" lengthAdjust="spacingAndGlyphs">Brugola</text>
<text class="s" x="413.9" y="811.2" textLength="39.6" lengthAdjust="spacingAndGlyphs">M6x20</text>
<text class="s" x="586.5" y="596.2" textLength="42.6" lengthAdjust="spacingAndGlyphs">3 Viti</text>
<text class="s" x="589.1" y="611.6" textLength="40.6" lengthAdjust="spacingAndGlyphs">M8x25</text>
<text class="s" x="552.5" y="662.5" textLength="26.3" lengthAdjust="spacingAndGlyphs">Vite</text>
<text class="s" x="545.9" y="677.4" textLength="40.6" lengthAdjust="spacingAndGlyphs">M8x35</text>
</g>
<g id="dims">
<g class="l">
<line x1="316" y1="337.3" x2="90.4" y2="385.2" marker-end="url(#a)"/>
<line x1="346" y1="330.9" x2="570" y2="283.4" marker-end="url(#a)"/>
<line x1="273" y1="379.9" x2="96.3" y2="417.8" marker-end="url(#a)"/>
<line x1="304.4" y1="373.2" x2="480.2" y2="335.5" marker-end="url(#a)"/>
<line x1="87.6" y1="379.6" x2="133.8" y2="628"/>
<line x1="571.3" y1="278.1" x2="597.8" y2="416.9"/>
<line x1="480.9" y1="330.4" x2="491.9" y2="387.2"/>
<line x1="551.9" y1="362" x2="545.8" y2="378.5" marker-end="url(#a)"/>
<line x1="532.1" y1="413.5" x2="537.5" y2="399.1" marker-end="url(#a)"/>
<line x1="117" y1="646.7" x2="133.5" y2="646.7" marker-end="url(#a)"/>
<line x1="176" y1="644.8" x2="150.2" y2="644.8" marker-end="url(#a)"/>
<line x1="222" y1="721.8" x2="173.3" y2="716.2" marker-end="url(#a)"/>
<line x1="252" y1="725.3" x2="304.5" y2="731.4" marker-end="url(#a)"/>
<line x1="243" y1="754.5" x2="179.8" y2="758.2" marker-end="url(#a)"/>
<line x1="272" y1="752.8" x2="335.4" y2="749.1" marker-end="url(#a)"/>
<line x1="405" y1="645.5" x2="366.5" y2="655.5" marker-end="url(#a)"/>
<line x1="434" y1="637.9" x2="475.9" y2="626.6" marker-end="url(#a)"/>
<line x1="505.5" y1="615" x2="478.4" y2="624.8" marker-end="url(#a)"/>
<line x1="525" y1="608" x2="551.8" y2="598.4" marker-end="url(#a)"/>
<line x1="359.7" y1="632.9" x2="354.9" y2="649.4" marker-end="url(#a)"/>
<line x1="345.5" y1="685.6" x2="349.9" y2="669.1" marker-end="url(#a)"/>
<line x1="273.6" y1="618.6" x2="274.8" y2="636.4" marker-end="url(#a)"/>
<line x1="280.3" y1="701" x2="280" y2="684.8" marker-end="url(#a)"/>
<line x1="171" y1="688.6" x2="173.3" y2="716.2"/>
<line x1="175.3" y1="690" x2="179.8" y2="758.2"/>
<line x1="315.2" y1="644.3" x2="304.3" y2="731.5"/>
<line x1="331.2" y1="685.6" x2="335.4" y2="749.1"/>
<line x1="359.7" y1="632.9" x2="366.5" y2="655.5"/>
<line x1="468.8" y1="605.6" x2="476.5" y2="627.9"/>
<line x1="541.9" y1="575.4" x2="551.8" y2="598.4"/>
<line x1="460" y1="274.1" x2="462.9" y2="387.2"/>
<line x1="403.8" y1="409.6" x2="399.6" y2="453.5"/>
<line x1="273.8" y1="464.4" x2="306" y2="642"/>
<line x1="190.2" y1="522" x2="164.7" y2="651"/>
<line x1="129.8" y1="769.6" x2="172.5" y2="685"/>
<line x1="413" y1="691.4" x2="317.7" y2="706.7"/>
<line x1="417.5" y1="731" x2="338" y2="725.3"/>
<line x1="332" y1="724.7" x2="315.8" y2="723.6"/>
<line x1="412.5" y1="771.6" x2="313.8" y2="762.2"/>
<line x1="406.2" y1="816" x2="314.5" y2="782.7"/>
<line x1="577.5" y1="582.4" x2="509" y2="523"/>
<line x1="537.1" y1="648.5" x2="449.6" y2="561.4"/>
<path d="M310.8,682.8L313,706" stroke-dasharray="9 2 1.5 2"/>
<path d="M303.7,683.9L308.8,760L309.4,768" stroke-dasharray="9 2 1.5 2"/>
</g>
<text class="n" transform="translate(330.7,334.2) rotate(-12)" x="-12" y="4" textLength="24" lengthAdjust="spacingAndGlyphs">640</text>
<text class="n" transform="translate(288.7,376.5) rotate(-12)" x="-12" y="4" textLength="24" lengthAdjust="spacingAndGlyphs">540</text>
<text class="ni" transform="translate(236.8,723.5) rotate(6.6)" x="-11.2" y="4" textLength="22.5" lengthAdjust="spacingAndGlyphs">162</text>
<text class="ni" transform="translate(257.4,753.7) rotate(-3.3)" x="-11.3" y="4" textLength="22.7" lengthAdjust="spacingAndGlyphs">200</text>
<text class="n" transform="translate(419.8,641.6) rotate(-14.6)" x="-11.8" y="4" textLength="23.6" lengthAdjust="spacingAndGlyphs">132</text>
<text class="n" transform="translate(515.3,611.5) rotate(-19.8)" x="-7.3" y="4" textLength="14.6" lengthAdjust="spacingAndGlyphs">98</text>
<text class="n" transform="translate(527.4,429.6) rotate(-72.8)" x="-11" y="4" textLength="22" lengthAdjust="spacingAndGlyphs">ø25</text>
<text class="n" transform="translate(341.2,700.3) rotate(-75)" x="-11.5" y="4" textLength="23" lengthAdjust="spacingAndGlyphs">ø22</text>
<text class="n" transform="translate(278,659.9) rotate(90)" x="-11" y="4" textLength="22" lengthAdjust="spacingAndGlyphs">ø60</text>
<text class="n" x="89.8" y="654" textLength="22" lengthAdjust="spacingAndGlyphs">ø20</text>
<text class="s" x="430.6" y="403" textLength="12" lengthAdjust="spacingAndGlyphs" style="font-size:20.5px;stroke-width:0">A</text>
</g>
<g id="btxt">
<text class="s" x="488.7" y="793" textLength="35" lengthAdjust="spacingAndGlyphs">Scala</text>
<text class="s" x="533.9" y="793" textLength="47.6" lengthAdjust="spacingAndGlyphs">approx.</text>
<text class="s" x="590.8" y="793" textLength="6.1" lengthAdjust="spacingAndGlyphs">1</text>
<text class="s" x="606.2" y="793" textLength="3.3" lengthAdjust="spacingAndGlyphs">:</text>
<text class="s" x="617.9" y="793" textLength="7.9" lengthAdjust="spacingAndGlyphs">5</text>
<text class="s" x="488.7" y="815.7" textLength="36.8" lengthAdjust="spacingAndGlyphs">Quote</text>
<text class="s" x="535.3" y="815.7" textLength="28.9" lengthAdjust="spacingAndGlyphs">reali</text>
<text class="s" x="573.6" y="815.7" textLength="11.6" lengthAdjust="spacingAndGlyphs">in</text>
<text class="s" x="595.5" y="815.7" textLength="72.3" lengthAdjust="spacingAndGlyphs">millimetri</text>
<text class="s" x="85.7" y="866.8" textLength="88.6" lengthAdjust="spacingAndGlyphs" style="font-size:16px;stroke-width:0">ART.4287</text>
<text class="s" x="202" y="867" textLength="90.9" lengthAdjust="spacingAndGlyphs">Silenziatore</text>
<text class="s" x="304.9" y="867" textLength="45.6" lengthAdjust="spacingAndGlyphs">HANDE</text>
<text class="s" x="363.2" y="867" textLength="38.8" lengthAdjust="spacingAndGlyphs">MADE</text>
<text class="s" x="412.3" y="867" textLength="34.3" lengthAdjust="spacingAndGlyphs">"RS"</text>
<text class="s" x="458.6" y="867" textLength="23.3" lengthAdjust="spacingAndGlyphs">per</text>
<text class="s" x="491.2" y="867" textLength="62.7" lengthAdjust="spacingAndGlyphs">PEUGEOT</text>
<text class="s" x="564.9" y="867" textLength="46.3" lengthAdjust="spacingAndGlyphs">SQUAB</text>
<text class="s" x="619.1" y="867" textLength="9.2" lengthAdjust="spacingAndGlyphs">−</text>
<text class="s" x="202" y="890" textLength="90.9" lengthAdjust="spacingAndGlyphs">SPEEDFIGHT</text>
<text class="s" x="304.9" y="890" textLength="9.2" lengthAdjust="spacingAndGlyphs">−</text>
<text class="s" x="326.5" y="890" textLength="36.7" lengthAdjust="spacingAndGlyphs">BUXY</text>
<text class="s" x="373.5" y="890" textLength="12" lengthAdjust="spacingAndGlyphs">M</text>
<text class="s" x="396" y="890" textLength="9.4" lengthAdjust="spacingAndGlyphs">−</text>
<text class="s" x="415.9" y="890" textLength="67.4" lengthAdjust="spacingAndGlyphs">VIVACITY</text>
<text class="s" x="494.6" y="890" textLength="15.4" lengthAdjust="spacingAndGlyphs">50</text>
<text class="s" x="518.6" y="890" textLength="29.8" lengthAdjust="spacingAndGlyphs">(Air</text>
<text class="s" x="558" y="890" textLength="49.8" lengthAdjust="spacingAndGlyphs">cooled)</text>
<text class="s" x="202" y="912.4" textLength="24" lengthAdjust="spacingAndGlyphs">con</text>
<text class="s" x="237.3" y="912.4" textLength="85.8" lengthAdjust="spacingAndGlyphs">silenziatore</text>
<text class="s" x="334" y="912.4" textLength="14.4" lengthAdjust="spacingAndGlyphs">in</text>
<text class="s" x="359.7" y="912.4" textLength="35.4" lengthAdjust="spacingAndGlyphs">inox.</text>
</g>
</svg>
<div class="bar" style="left:0;width:11px"></div>
<div class="bar" style="left:717px;width:12px"></div>
</body>
</html>
